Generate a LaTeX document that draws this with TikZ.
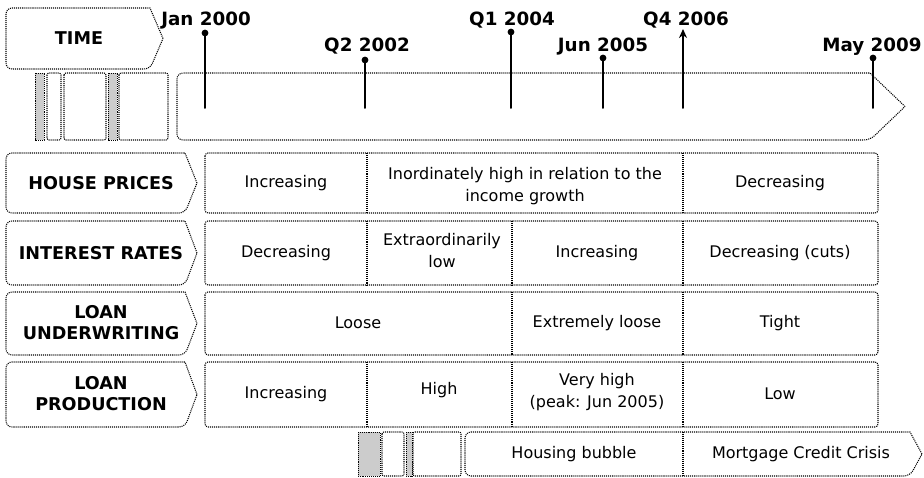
\documentclass[tikz,border=0pt]{standalone}
\usepackage{fontspec}
\setmainfont{DejaVu Sans}
\usetikzlibrary{arrows.meta}
\tikzset{
  outl/.style={draw=black, densely dotted, line width=1.05pt},
  band/.style={draw=black, densely dotted, line width=0.9pt, fill=gray!40},
  lbl/.style={font=\fontsize{17.6}{21}\selectfont\bfseries, align=center, inner sep=0pt},
  cell/.style={font=\fontsize{16}{22}\selectfont, align=center, inner sep=0pt},
  pinlbl/.style={font=\fontsize{18.3}{20}\selectfont\bfseries, anchor=base, inner sep=0pt},
  pin/.style={line width=2pt, line cap=round},
}
\newcommand\mypent[5]{%
  \draw[outl] (#5,{(#2+#4)/2}) -- (#3,#2) [rounded corners=6pt] -- (#1,#2) -- (#1,#4) -- (#3,#4) [sharp corners] -- cycle;}
\newcommand\myrow[2]{%
  \draw[outl, rounded corners=3pt] (205,#1) rectangle (878,#2);}
\begin{document}
\begin{tikzpicture}[x=1pt, y=-1pt]
\useasboundingbox (0,0) rectangle (924,478);

% ---------- TIME header and timeline bar ----------
\mypent{6}{8}{150}{69}{163}
\node[lbl] (time) at (79,38) {TIME};

\draw[band] (35,73) rectangle (44,140);
\draw[outl, rounded corners=2pt] (47,73) rectangle (61,140);
\draw[outl, rounded corners=2pt] (64,73) rectangle (106,140);
\draw[band] (108,73) rectangle (117,140);
\draw[outl, rounded corners=2pt] (119,73) rectangle (168,140);
\mypent{177}{73}{870}{140}{905}

% ---------- pins ----------
\coordinate (p1b) at (205,108); \coordinate (p1t) at (205,33);
\coordinate (p2b) at (365,108); \coordinate (p2t) at (365,60);
\coordinate (p3b) at (511,108); \coordinate (p3t) at (511,32);
\coordinate (p4b) at (603,108); \coordinate (p4t) at (603,58);
\coordinate (p5b) at (683,108); \coordinate (p5t) at (683,29);
\coordinate (p6b) at (873,108); \coordinate (p6t) at (873,58);
\draw[pin] (p1b) -- (p1t); \fill (p1t) circle (3.4pt);
\draw[pin] (p2b) -- (p2t); \fill (p2t) circle (3.4pt);
\draw[pin] (p3b) -- (p3t); \fill (p3t) circle (3.4pt);
\draw[pin] (p4b) -- (p4t); \fill (p4t) circle (3.4pt);
\draw[pin, -{Stealth[length=9pt,width=8pt]}] (p5b) -- (p5t);
\draw[pin] (p6b) -- (p6t); \fill (p6t) circle (3.4pt);

\node[pinlbl] (t1) at (206,26) {Jan 2000};
\node[pinlbl] (t2) at (367,52) {Q2 2002};
\node[pinlbl] (t3) at (512,26) {Q1 2004};
\node[pinlbl] (t4) at (603,52) {Jun 2005};
\node[pinlbl] (t5) at (686,26) {Q4 2006};
\node[pinlbl] (t6) at (872,52) {May 2009};

% ---------- row 1: house prices ----------
\mypent{6}{153}{185}{213}{197}
\node[lbl] (l1) at (101,183) {HOUSE PRICES};
\myrow{153}{213}
\draw[outl] (367,153) -- (367,213);
\draw[outl] (683,153) -- (683,213);
\node[cell] (c11) at (286,183) {Increasing};
\node[cell] (c12) at (525,186) {Inordinately high in relation to the\\income growth};
\node[cell] (c13) at (780,183) {Decreasing};

% ---------- row 2: interest rates ----------
\mypent{6}{221}{185}{285}{197}
\node[lbl] (l2) at (101,253) {INTEREST RATES};
\myrow{221}{285}
\draw[outl] (367,221) -- (367,285);
\draw[outl] (512,221) -- (512,285);
\draw[outl] (683,221) -- (683,285);
\node[cell] (c21) at (286,253) {Decreasing};
\node[cell] (c22) at (442,251) {Extraordinarily\\low};
\node[cell] (c23) at (597,253) {Increasing};
\node[cell] (c24) at (780,253) {Decreasing (cuts)};

% ---------- row 3: loan underwriting ----------
\mypent{6}{292}{185}{355}{197}
\node[lbl] (l3) at (101,323) {LOAN\\UNDERWRITING};
\myrow{292}{355}
\draw[outl] (512,292) -- (512,355);
\draw[outl] (683,292) -- (683,355);
\node[cell] (c31) at (358,323) {Loose};
\node[cell] (c32) at (597,323) {Extremely loose};
\node[cell] (c33) at (780,323) {Tight};

% ---------- row 4: loan production ----------
\mypent{6}{362}{185}{427}{197}
\node[lbl] (l4) at (101,394) {LOAN\\PRODUCTION};
\myrow{362}{427}
\draw[outl] (367,362) -- (367,427);
\draw[outl] (512,362) -- (512,427);
\draw[outl] (683,362) -- (683,427);
\node[cell] (c41) at (286,394) {Increasing};
\node[cell] (c42) at (439,390) {High};
\node[cell] (c43) at (597,392) {Very high\\(peak: Jun 2005)};
\node[cell] (c44) at (780,394) {Low};

% ---------- bottom phase arrow ----------
\draw[band] (358,432) rectangle (380,476);
\draw[outl, rounded corners=2pt] (382,432) rectangle (404,476);
\draw[band] (406,432) rectangle (412,476);
\draw[outl, rounded corners=2pt] (413,432) rectangle (461,476);
\mypent{465}{432}{910}{476}{922}
\draw[outl] (683,432) -- (683,476);
\node[cell] (b1) at (574,454) {Housing bubble};
\node[cell] (b2) at (801,454) {Mortgage Credit Crisis};
\end{tikzpicture}
\end{document}
